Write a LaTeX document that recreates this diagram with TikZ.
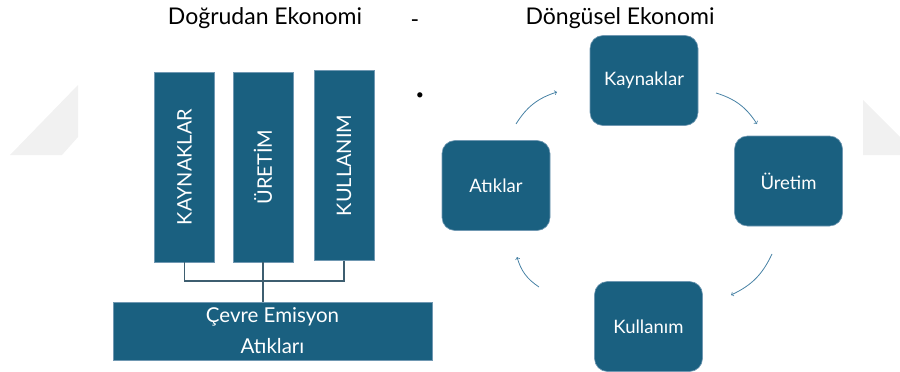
\documentclass[tikz,border=0pt]{standalone}
\usepackage{fontspec}
\setmainfont{Lato}
\definecolor{boxblue}{RGB}{26,96,128}
\definecolor{edgeblue}{RGB}{112,152,178}
\definecolor{arrowblue}{RGB}{72,130,165}
\definecolor{linkgray}{RGB}{62,94,112}
\definecolor{paleshade}{RGB}{241,241,241}
\begin{document}
\begin{tikzpicture}[x=1pt,y=-1pt]
	\tikzstyle{bar}=[rectangle, fill=boxblue, draw=edgeblue, line width=0.6pt, text=white, rotate=90, minimum width=190pt, minimum height=60pt, inner sep=0pt, font=\fontsize{20}{24}\selectfont]
	\tikzstyle{loopbox}=[rectangle, rounded corners=13pt, fill=boxblue, draw=edgeblue, line width=0.6pt, text=white, minimum width=108pt, minimum height=90pt, inner sep=0pt, font=\fontsize{18.5}{22}\selectfont]
	\tikzstyle{flow}=[->, draw=arrowblue, line width=0.8pt]
	\tikzstyle{link}=[draw=linkgray, line width=1.2pt]
	\tikzstyle{title}=[font=\fontsize{23}{27}\selectfont]
	\useasboundingbox (0,0) rectangle (900,372);
	\fill[paleshade] (78,85) -- (78,137) -- (62,155) -- (10,155) -- cycle;
	\fill[paleshade] (863,100) -- (900,137) -- (900,155) -- (863,155) -- cycle;

	\node[title] at (265,18) (linear) {Doğrudan Ekonomi};
	\node[title] at (415,24) (dash) {-};
	\node[title] at (620,18) (circular) {Döngüsel Ekonomi};
	\node at (420,96) (dot) {\fontsize{14}{16}\selectfont\textbullet};

	\node[bar] at (184.5,167) (kaynaklar) {KAYNAKLAR};
	\node[bar] at (263,167) (uretim) {ÜRETİM};
	\node[bar] at (344,165.5) (kullanim) {KULLANIM};
	\node[rectangle, fill=boxblue, draw=edgeblue, line width=0.6pt, text=white, minimum width=319pt, minimum height=58pt, align=center, font=\fontsize{20.5}{31}\selectfont] at (272.5,331) (emisyon) {Çevre Emisyon\\Atıkları};
	\coordinate (join) at (263,281);
	\draw[link] (kaynaklar.west) |- (join);
	\draw[link] (kullanim.west) |- (join);
	\draw[link] (uretim.west) -- (uretim.west |- emisyon.north);

	\node[loopbox] at (644,80.5) (kaynak) {Kaynaklar};
	\node[loopbox] at (788.5,181) (uret) {Üretim};
	\node[loopbox] at (648.5,326.5) (kullan) {Kullanım};
	\node[loopbox] at (496,185.5) (atik) {Atıklar};

	\coordinate (a1) at (516,124);
	\coordinate (a2) at (557,92);
	\coordinate (b1) at (716,93);
	\coordinate (b2) at (757,124);
	\coordinate (c1) at (772,254);
	\coordinate (c2) at (731,295);
	\coordinate (d1) at (539,287);
	\coordinate (d2) at (517,257);
	\draw[flow] (a1) to[bend left=20] (a2);
	\draw[flow] (b1) to[bend left=20] (b2);
	\draw[flow] (c1) to[bend left=20] (c2);
	\draw[flow] (d1) to[bend left=20] (d2);
\end{tikzpicture}
\end{document}
